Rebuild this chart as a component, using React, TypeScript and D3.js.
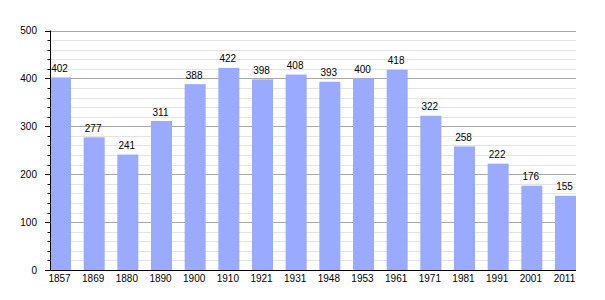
import React from "react";
import * as d3 from "d3";

const years = ["1857","1869","1880","1890","1900","1910","1921","1931","1948","1953","1961","1971","1981","1991","2001","2011"];
const population = [402,277,241,311,388,422,398,408,393,400,418,322,258,222,176,155];
const majorTicks = [0,100,200,300,400,500];
const minorTicks = d3.range(0, 501, 20);

const W = 605, H = 300;
const left = 50, right = 576, top = 30.5, bottom = 270;
const font = "'Liberation Sans', Arial, sans-serif";

export default function App() {
  const x = d3.scaleBand<string>().domain(years).range([left, right]).paddingInner(0.376).paddingOuter(0);
  const y = d3.scaleLinear().domain([0, 500]).range([bottom, top]);
  return (
    <svg width={W} height={H} style={{ position: "absolute", left: 0, top: 0, background: "#fff" }}>
      {minorTicks.filter(t => t % 100 !== 0).map(t => (
        <line key={"mg" + t} x1={left} x2={right} y1={Math.round(y(t)) + 0.5} y2={Math.round(y(t)) + 0.5} stroke="#e4e4e4" strokeWidth={1} />
      ))}
      {majorTicks.filter(t => t > 0).map(t => (
        <line key={"Mg" + t} x1={left} x2={right} y1={Math.round(y(t)) + 0.5} y2={Math.round(y(t)) + 0.5} stroke="#a8a8a8" strokeWidth={1} />
      ))}
      {population.map((v, i) => (
        <rect key={"b" + i} x={x(years[i])!} y={y(v)} width={x.bandwidth()} height={bottom - y(v)} fill="#99aaff" />
      ))}
      {population.map((v, i) => (
        <text key={"l" + i} x={x(years[i])! + x.bandwidth() / 2 - 1} y={y(v) - 5.5} textAnchor="middle" fontFamily={font} fontSize={10} fill="#000">{v}</text>
      ))}
      {minorTicks.map(t => (
        <line key={"t" + t} x1={t % 100 === 0 ? left - 5 : left - 2.5} x2={left} y1={Math.round(y(t)) + 0.5} y2={Math.round(y(t)) + 0.5} stroke="#000" strokeWidth={1} />
      ))}
      {majorTicks.map(t => (
        <text key={"yl" + t} x={37} y={y(t) + 3.5} textAnchor="end" fontFamily={font} fontSize={10} fill="#000">{t}</text>
      ))}
      <line x1={left + 0.5} x2={left + 0.5} y1={top} y2={bottom + 0.5} stroke="#000" strokeWidth={1} />
      <line x1={left} x2={right} y1={bottom + 0.5} y2={bottom + 0.5} stroke="#000" strokeWidth={1} />
      {years.map(yr => (
        <text key={"xl" + yr} x={x(yr)! + x.bandwidth() / 2 - 1} y={281.5} textAnchor="middle" fontFamily={font} fontSize={10} fill="#000">{yr}</text>
      ))}
    </svg>
  );
}
